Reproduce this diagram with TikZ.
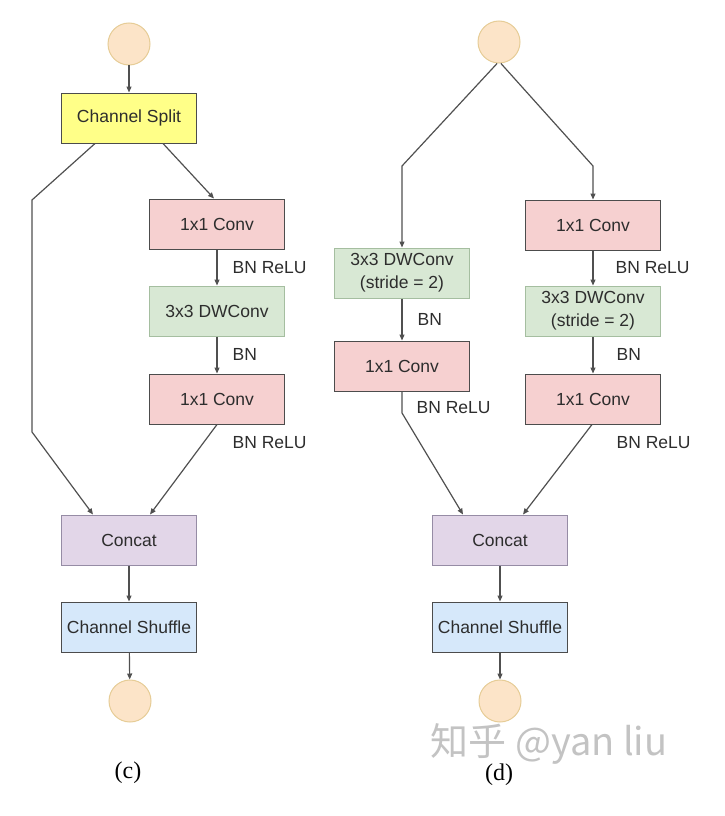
\documentclass[tikz,border=0pt]{standalone}
\usepackage{fontspec}
\setmainfont{Liberation Sans}
\newfontfamily\capfont{Liberation Serif}
\newfontfamily\cjk{Noto Sans CJK SC}
\usetikzlibrary{arrows.meta,positioning}

\definecolor{ioFill}{RGB}{252,228,200}
\definecolor{ioDraw}{RGB}{230,204,150}
\definecolor{splitFill}{RGB}{255,255,136}
\definecolor{convFill}{RGB}{246,208,208}
\definecolor{dwFill}{RGB}{216,232,212}
\definecolor{dwDraw}{RGB}{165,190,160}
\definecolor{catFill}{RGB}{226,214,232}
\definecolor{catDraw}{RGB}{150,140,165}
\definecolor{shufFill}{RGB}{214,232,250}
\definecolor{lineGray}{RGB}{80,80,80}
\definecolor{textGray}{RGB}{45,45,45}
\definecolor{markGray}{RGB}{195,195,195}

\tikzset{
  block/.style={draw=textGray!85, line width=1pt, minimum width=135pt, minimum height=50pt,
    inner sep=0pt, align=center, text=textGray, font=\fontsize{17.5}{23}\selectfont},
  splitbox/.style={block, fill=splitFill},
  convbox/.style={block, fill=convFill},
  dwbox/.style={block, fill=dwFill, draw=dwDraw},
  catbox/.style={block, fill=catFill, draw=catDraw},
  shufbox/.style={block, fill=shufFill},
  io/.style={circle, fill=ioFill, draw=ioDraw, line width=1pt, minimum size=42pt, inner sep=0pt},
  lbl/.style={anchor=west, inner sep=0pt, text=textGray, font=\fontsize{17.5}{21}\selectfont},
  caption/.style={inner sep=0pt, font=\capfont\fontsize{24}{26}\selectfont},
}

\begin{document}
\begin{tikzpicture}[x=1pt,y=-1pt,>={Triangle[length=6pt,width=5pt]},line width=1.2pt,draw=lineGray]

\useasboundingbox (0,0) rectangle (724,816);

% (c)
\node[io] (inC) at (129,44) {};
\node[splitbox] (split) at (129,118) {Channel Split};
\node[convbox] (convCa) at (217,224) {1x1 Conv};
\node[dwbox] (dwC) at (217,311) {3x3 DWConv};
\node[convbox] (convCb) at (217,399) {1x1 Conv};
\node[catbox] (catC) at (129,540) {Concat};
\node[shufbox] (shufC) at (129,627) {Channel Shuffle};
\node[io] (outC) at (130,701) {};

\coordinate (bendCa) at (32,200);
\coordinate (bendCb) at (32,432);

\node[lbl] (reluCa) at (232,268) {BN ReLU};
\node[lbl] (bnC) at (232,354) {BN};
\node[lbl] (reluCb) at (232,443) {BN ReLU};

% (d)
\node[io] (inD) at (499,42) {};
\node[dwbox] (dwDl) at (402,273) {3x3 DWConv\\(stride = 2)};
\node[convbox] (convDl) at (402,366) {1x1 Conv};
\node[convbox] (convDa) at (593,225) {1x1 Conv};
\node[dwbox] (dwDr) at (593,311) {3x3 DWConv\\(stride = 2)};
\node[convbox] (convDb) at (593,399) {1x1 Conv};
\node[catbox] (catD) at (500,540) {Concat};
\node[shufbox] (shufD) at (500,627) {Channel Shuffle};
\node[io] (outD) at (500,701) {};

\coordinate (bendDa) at (402,166);
\coordinate (bendDb) at (593,166);
\coordinate (bendDc) at (402,413);

\node[lbl] (bnDl) at (417,319) {BN};
\node[lbl] (reluDl) at (416,408) {BN ReLU};
\node[lbl] (reluDa) at (615,268) {BN ReLU};
\node[lbl] (bnDr) at (616,354) {BN};
\node[lbl] (reluDb) at (616,443) {BN ReLU};

% captions
\node[inner sep=0pt, text=markGray, font=\cjk\fontsize{38}{40}\selectfont] (mark) at (549,744) {知乎 @yan liu};
\node[caption] (capC) at (128,773) {(c)};
\node[caption] (capD) at (499,775) {(d)};

\path (inC) edge[->] (split)
      (convCa) edge[->] (dwC)
      (dwC) edge[->] (convCb)
      (catC) edge[->] (shufC)
      (shufC) edge[->] (outC);

\draw[->] ([xshift=34pt]split.south) -- ([xshift=-3pt]convCa.north);
\draw[->] ([xshift=-34pt]split.south) -- (bendCa) -- (bendCb) -- ([xshift=-36pt]catC.north);
\draw[->] (convCb.south) -- ([xshift=21pt]catC.north);

\path (dwDl) edge[->] (convDl)
      (convDa) edge[->] (dwDr)
      (dwDr) edge[->] (convDb)
      (catD) edge[->] (shufD)
      (shufD) edge[->] (outD);

\draw[->] (inD.265) -- (bendDa) -- (dwDl.north);
\draw[->] (inD.275) -- (bendDb) -- (convDa.north);
\draw[->] (convDl.south) -- (bendDc) -- ([xshift=-37pt]catD.north);
\draw[->] ([xshift=-1pt]convDb.south) -- ([xshift=23pt]catD.north);

\end{tikzpicture}
\end{document}
